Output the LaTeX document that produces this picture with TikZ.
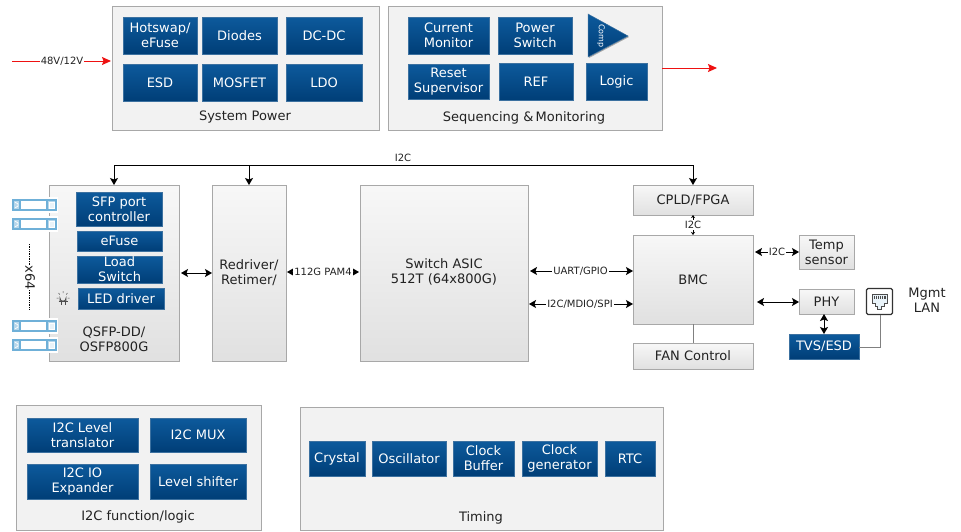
\documentclass[tikz,border=0pt]{standalone}
\usepackage{fontspec}
\setmainfont{DejaVu Sans}
\usetikzlibrary{arrows.meta,shadows,calc}
\definecolor{bluetop}{HTML}{0D5A9C}
\definecolor{bluebot}{HTML}{003E77}
\definecolor{edgegray}{HTML}{A8A8A8}
\definecolor{modblue}{HTML}{6FB0D8}
\definecolor{txt}{HTML}{222222}
\definecolor{powerred}{HTML}{EE1111}
\newcommand{\pbox}[6]{\node[#1,minimum width={(#4-#2)*1pt},minimum height={(#5-#3)*1pt}] (#6) at ({(#2+#4)/2},{(#3+#5)/2})}
\tikzset{
 x=1pt,y=-1pt,
 every node/.style={font=\fontsize{13}{15}\selectfont,text=txt,align=center,inner sep=0pt,outer sep=0pt},
 softshadow/.style={drop shadow={shadow xshift=1pt,shadow yshift=-1pt,opacity=.3,fill=black}},
 panel/.style={draw=edgegray,line width=.8pt,fill=black!5,softshadow},
 graybox/.style={draw=edgegray,line width=.8pt,top color=black!3,bottom color=black!12,softshadow},
 bluebox/.style={draw=bluetop!70!edgegray,line width=.5pt,top color=bluetop,bottom color=bluebot,text=white,softshadow},
 small/.style={font=\fontsize{10}{12}\selectfont},
 flow/.style={draw=black,line width=.8pt,{Stealth[length=7pt,width=8pt,inset=1.5pt]}-{Stealth[length=7pt,width=8pt,inset=1.5pt]}},
 oneway/.style={draw=black,line width=.8pt,-{Stealth[length=7pt,width=8pt,inset=1.5pt]}},
 power/.style={draw=powerred,line width=1pt,-{Stealth[length=9pt,width=8pt,inset=1.5pt]}},
 plainline/.style={draw=black!50,line width=.8pt},
 module/.pic={
  \fill[white] (-2,-8) rectangle (45,8);
  \draw[modblue,line width=1.1pt,fill=white] (0,-5) rectangle (43,5);
  \draw[modblue,line width=1.1pt,fill=modblue!50] (0,-5) rectangle (7,5);
  \draw[white,line width=.7pt] (2,-2.8) -- (5,-1.2) -- (5,1.2) -- (2,2.8);
  \draw[modblue,line width=1.1pt,fill=modblue!50] (34,-5) rectangle (43,5);
  \draw[white,fill=modblue!15,line width=.5pt] (36,-3) rectangle (41,3);
 }
}
\begin{document}
\begin{tikzpicture}
\useasboundingbox (0,0) rectangle (961,531);
% power input, drawn before everything else
\coordinate (powerstart) at (12,61);
\coordinate (powerend) at (111,61);
\draw[power] (powerstart) -- (powerend);
% panels
\pbox{panel}{112}{6}{379}{130}{syspower} {};
\pbox{panel}{388}{6}{662}{130}{seqmon} {};
\pbox{panel}{16}{405}{261}{530}{ifunc} {};
\pbox{panel}{300}{407}{663}{530}{timing} {};
\node (syspowert) at (245,117) {System Power};
\node (seqmont) at (524,118) {Sequencing \&\,Monitoring};
\node (ifunct) at (138,517) {I2C function/logic};
\node (timingt) at (481,518) {Timing};
% system power
\pbox{bluebox}{123}{17}{197}{54}{hotswap} {Hotswap/\\eFuse};
\pbox{bluebox}{202}{17}{277}{54}{diodes} {Diodes};
\pbox{bluebox}{286}{17}{362}{54}{dcdc} {DC-DC};
\pbox{bluebox}{123}{64}{197}{101}{esd} {ESD};
\pbox{bluebox}{202}{64}{277}{101}{mosfet} {MOSFET};
\pbox{bluebox}{286}{64}{362}{101}{ldo} {LDO};
% sequencing
\pbox{bluebox}{408}{17}{489}{54}{curmon} {Current\\Monitor};
\pbox{bluebox}{498}{17}{572}{54}{pswitch} {Power\\Switch};
\path[draw=bluetop!70!edgegray,line width=.5pt,top color=bluetop,bottom color=bluebot,softshadow] (588,14) -- (628,36) -- (588,57) -- cycle;
\node[rotate=-90,text=white,font=\fontsize{8}{9}\selectfont] (comp) at (601,36) {Comp};
\pbox{bluebox}{408}{64}{489}{99}{reset} {Reset\\Supervisor};
\pbox{bluebox}{499}{63}{573}{100}{ref} {REF};
\pbox{bluebox}{586}{63}{647}{100}{logic} {Logic};
% power arrows
\coordinate (pout) at (717,68);
\node[small,fill=white,inner xsep=1pt] (vlabel) at (62,61) {48V/12V};
\draw[power] (seqmon.east |- pout) -- (pout);
% main row
\pbox{graybox}{49}{185}{179}{361}{qsfp} {};
\node (qsfpt) at (114,339.5) {QSFP-DD/\\OSFP800G};
\pbox{bluebox}{76}{192}{162}{226}{sfpctl} {SFP port\\controller};
\pbox{bluebox}{77}{231}{162}{251}{efuse} {eFuse};
\pbox{bluebox}{77}{256}{162}{283}{load} {Load\\Switch};
\pbox{bluebox}{78}{288}{164}{309}{led} {LED driver};
\pbox{graybox}{212}{185}{286}{361}{redriver} {Redriver/\\Retimer/};
\pbox{graybox}{360}{185}{528}{361}{asic} {};
\node (asict) at (444,272) {Switch ASIC\\512T (64x800G)};
\pbox{graybox}{633}{185}{753}{215}{cpld} {CPLD/FPGA};
\pbox{graybox}{633}{235}{753}{324}{bmc} {BMC};
\pbox{graybox}{633}{343}{753}{369}{fan} {FAN Control};
\pbox{graybox}{799}{235}{854}{269}{temp} {Temp\\sensor};
\pbox{graybox}{799}{289}{854}{314}{phy} {PHY};
\pbox{bluebox}{789}{334}{859}{359}{tvs} {TVS/ESD};
% modules
\pic at (13,205) {module};
\pic at (13,224) {module};
\pic at (13,326) {module};
\pic at (13,345) {module};
\draw[black,line width=.7pt,densely dotted] (29,244) -- (29,309);
\node[rotate=-90,fill=white,inner ysep=1pt] (x64) at (30,278) {x64};
% lamp icon
\draw[black!70,line width=.7pt] (60,301) -- (60,298) arc[start angle=180,end angle=360,x radius=3,y radius=-3.2] -- (66,301);
\draw[black!70,line width=.7pt] (58.5,301) -- (67.5,301) (61,301) -- (61,305) (65,301) -- (65,305);
\draw[black!70,line width=.5pt] (56.5,298) -- (58.5,298) (67.5,298) -- (69.5,298) (58.5,293) -- (59.8,294.5) (67.5,293) -- (66.2,294.5) (63,291) -- (63,293);
% I2C bus
\coordinate (busl) at (114,165);
\coordinate (busm) at (249,165);
\coordinate (busr) at (693,165);
\draw[draw=black,line width=.8pt] (busl) -- (busr);
\draw[oneway] (busl) -- (busl |- qsfp.north);
\draw[oneway] (busm) -- (redriver.north);
\draw[oneway] (busr) -- (cpld.north);
\node[small] (busl2) at (403,158) {I2C};
% data connectors
\draw[flow] ([xshift=2pt]qsfp.east |- redriver.center) -- (redriver.west |- redriver.center);
\coordinate (pam) at (323,272);
\draw[flow,shorten <=1pt,shorten >=1pt] (redriver.east |- pam) -- (asic.west |- pam) node[pos=.5,small,fill=white,inner xsep=1pt] (pamt) {112G PAM4};
\coordinate (uart) at (581,271);
\draw[flow] ([xshift=2pt]asic.east |- uart) -- (bmc.west |- uart) node[pos=.5,small,fill=white,inner xsep=1pt,xshift=-1pt] (uartt) {UART/GPIO};
\coordinate (mdio) at (581,304);
\draw[flow] ([xshift=1pt]asic.east |- mdio) -- (bmc.west |- mdio) node[pos=.5,small,fill=white,inner xsep=1pt,xshift=-1pt] (mdiot) {I2C/MDIO/SPI};
\draw[{Stealth[length=3pt,width=4pt]}-{Stealth[length=3pt,width=4pt]},line width=.6pt] (cpld.south) -- (bmc.north) node[midway,small,fill=white,inner ysep=1pt] (cpldt) {I2C};
\draw[plainline] (bmc.south) -- (fan.north);
\coordinate (tempy) at (776,252);
\draw[flow] ([xshift=2pt]bmc.east |- tempy) -- (temp.west |- tempy) node[pos=.5,small,fill=white,inner xsep=1pt] (tempt) {I2C};
\coordinate (phyy) at (776,302);
\draw[flow] ([xshift=4pt]bmc.east |- phyy) -- (phy.west |- phyy);
\coordinate (phyx) at (824,320);
\draw[flow] (phyx |- phy.south) -- (phyx |- tvs.north);
% RJ45
\node[draw=black!80,line width=1.2pt,rounded corners=1.5pt,fill=white,minimum width=26pt,minimum height=26pt] (rj) at (879.5,301.5) {};
\draw[black!70,line width=.8pt,fill=modblue!15] (872,294) -- (887,294) -- (887,303) -- (884,303) -- (884,306) -- (881.5,306) -- (881.5,309) -- (877.5,309) -- (877.5,306) -- (875,306) -- (875,303) -- (872,303) -- cycle;
\foreach \xx in {874,876,878,880,882,884,885.5} \draw[black!70,line width=.5pt] (\xx,295.5) -- (\xx,298.5);
\coordinate (jog) at (880,347);
\draw[plainline] (rj.south -| jog) -- (jog) -- (tvs.east |- jog);
\node (mgmt) at (927,300.5) {Mgmt\\LAN};
% I2C function
\pbox{bluebox}{27}{418}{138}{452}{lvl} {I2C Level\\translator};
\pbox{bluebox}{150}{418}{246}{452}{mux} {I2C MUX};
\pbox{bluebox}{27}{464}{138}{499}{ioexp} {I2C IO\\Expander};
\pbox{bluebox}{150}{464}{246}{499}{shifter} {Level shifter};
% timing
\pbox{bluebox}{309}{441}{365}{476}{crystal} {Crystal};
\pbox{bluebox}{372}{441}{446}{476}{osc} {Oscillator};
\pbox{bluebox}{453}{441}{514}{476}{buffer} {Clock\\Buffer};
\pbox{bluebox}{522}{441}{597}{476}{clkgen} {Clock\\generator};
\pbox{bluebox}{605}{441}{655}{476}{rtc} {RTC};
\end{tikzpicture}
\end{document}
